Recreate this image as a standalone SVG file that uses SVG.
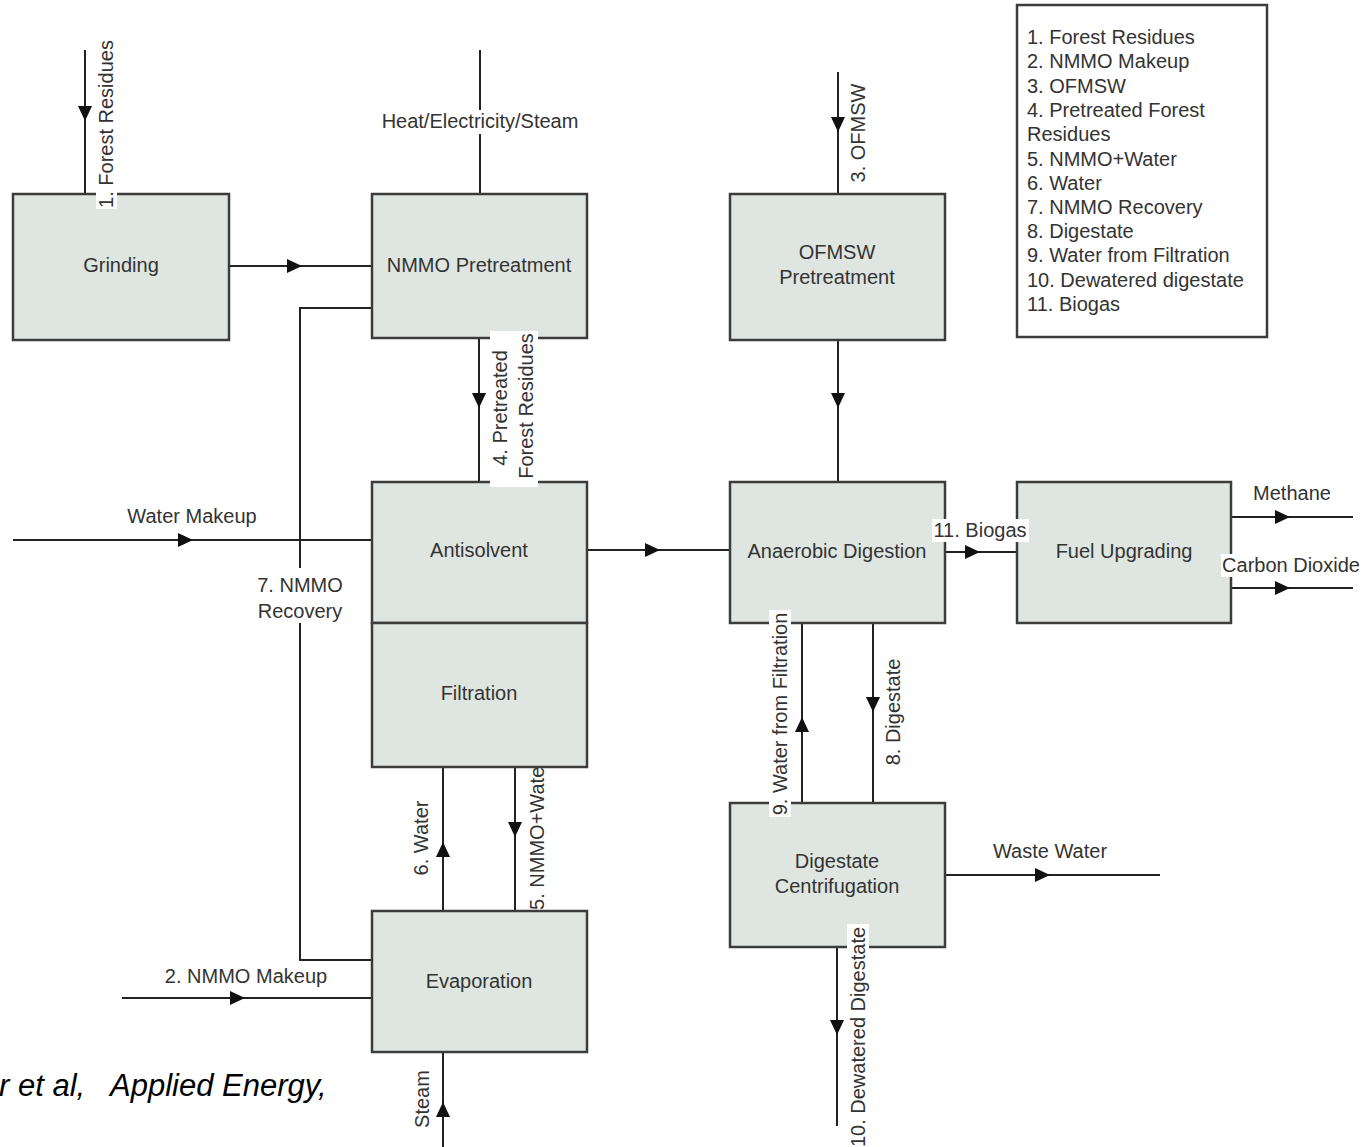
<svg xmlns="http://www.w3.org/2000/svg" width="1364" height="1147" viewBox="0 0 1364 1147">
<style>
.box{fill:#dfe6e1;stroke:#3c3c3c;stroke-width:2.5}
.lg{fill:#ffffff;stroke:#3c3c3c;stroke-width:2.5}
.t{font-family:"Liberation Sans",Arial,sans-serif;font-size:20px;fill:#333333;text-anchor:middle;dominant-baseline:central}
.lt{font-family:"Liberation Sans",Arial,sans-serif;font-size:20px;fill:#333333}
.c{fill:none;stroke:#222222;stroke-width:2;marker-mid:url(#ah)}
.cn{fill:none;stroke:#222222;stroke-width:2}
.bg{fill:#ffffff}
.cit{font-family:"Liberation Sans",Arial,sans-serif;font-size:31px;font-style:italic;fill:#000000}
</style>
<defs>
<marker id="ah" markerUnits="userSpaceOnUse" markerWidth="16" markerHeight="16" refX="15" refY="7" orient="auto">
<path d="M0,0 L15,7 L0,14 Z" fill="#111111"/>
</marker>
</defs>

<g id="connectors">
<path class="c" d="M85,50 L85,121 L85,194"/>
<path class="cn" d="M480,50 L480,194"/>
<path class="c" d="M229,266 L302,266 L372,266"/>
<path class="cn" d="M372,308 L300,308 L300,960 L372,960"/>
<path class="c" d="M479,338 L479,408 L479,482"/>
<path class="c" d="M13,540 L193,540 L372,540"/>
<path class="c" d="M587,550 L660,550 L730,550"/>
<path class="c" d="M838,72 L838,132 L838,194"/>
<path class="c" d="M838,340 L838,408 L838,482"/>
<path class="c" d="M945,552 L980,552 L1017,552"/>
<path class="c" d="M1231,517 L1290,517 L1353,517"/>
<path class="c" d="M1231,588 L1290,588 L1353,588"/>
<path class="c" d="M802,803 L802,717 L802,623"/>
<path class="c" d="M873,623 L873,712 L873,803"/>
<path class="c" d="M945,875 L1050,875 L1160,875"/>
<path class="c" d="M837,947 L837,1035 L837,1126"/>
<path class="c" d="M443,911 L443,842 L443,767"/>
<path class="c" d="M515,767 L515,837 L515,911"/>
<path class="c" d="M122,998 L245,998 L372,998"/>
<path class="c" d="M443,1147 L443,1102 L443,1053"/>
<text class="t" transform="translate(537,835) rotate(-90)">5. NMMO+Water</text>
</g>

<g id="grinding"><rect class="box" x="13" y="194" width="216" height="146"/><text class="t" x="121" y="265">Grinding</text></g>
<g id="nmmo-pretreatment"><rect class="box" x="372" y="194" width="215" height="144"/><text class="t" x="479" y="265">NMMO Pretreatment</text></g>
<g id="ofmsw-pretreatment"><rect class="box" x="730" y="194" width="215" height="146"/><text class="t" x="837" y="252">OFMSW</text><text class="t" x="837" y="277">Pretreatment</text></g>
<g id="antisolvent"><rect class="box" x="372" y="482" width="215" height="141"/><text class="t" x="479" y="550">Antisolvent</text></g>
<g id="filtration"><rect class="box" x="372" y="623" width="215" height="144"/><text class="t" x="479" y="693">Filtration</text></g>
<g id="anaerobic-digestion"><rect class="box" x="730" y="482" width="215" height="141"/><text class="t" x="837" y="551">Anaerobic Digestion</text></g>
<g id="fuel-upgrading"><rect class="box" x="1017" y="482" width="214" height="141"/><text class="t" x="1124" y="551">Fuel Upgrading</text></g>
<g id="digestate-centrifugation"><rect class="box" x="730" y="803" width="215" height="144"/><text class="t" x="837" y="861">Digestate</text><text class="t" x="837" y="886">Centrifugation</text></g>
<g id="evaporation"><rect class="box" x="372" y="911" width="215" height="141"/><text class="t" x="479" y="981">Evaporation</text></g>

<g id="legend">
<rect class="lg" x="1017" y="5" width="250" height="332"/>
<text class="lt" x="1027" y="44">1. Forest Residues</text>
<text class="lt" x="1027" y="68">2. NMMO Makeup</text>
<text class="lt" x="1027" y="93">3. OFMSW</text>
<text class="lt" x="1027" y="117">4. Pretreated Forest</text>
<text class="lt" x="1027" y="141">Residues</text>
<text class="lt" x="1027" y="166">5. NMMO+Water</text>
<text class="lt" x="1027" y="190">6. Water</text>
<text class="lt" x="1027" y="214">7. NMMO Recovery</text>
<text class="lt" x="1027" y="238">8. Digestate</text>
<text class="lt" x="1027" y="262">9. Water from Filtration</text>
<text class="lt" x="1027" y="287">10. Dewatered digestate</text>
<text class="lt" x="1027" y="311">11. Biogas</text>
</g>

<g id="connector-labels">
<rect class="bg" x="96" y="38" width="21" height="171"/>
<text class="t" transform="translate(106,124) rotate(-90)">1. Forest Residues</text>
<rect class="bg" x="378" y="110" width="204" height="24"/>
<text class="t" x="480" y="121">Heat/Electricity/Steam</text>
<rect class="bg" x="490" y="331" width="48" height="156"/>
<text class="t" transform="translate(500,408) rotate(-90)">4. Pretreated</text>
<text class="t" transform="translate(526,406) rotate(-90)">Forest Residues</text>
<text class="t" x="192" y="516">Water Makeup</text>
<rect class="bg" x="256" y="568" width="88" height="55"/>
<text class="t" x="300" y="585">7. NMMO</text>
<text class="t" x="300" y="611">Recovery</text>
<text class="t" transform="translate(858,133) rotate(-90)">3. OFMSW</text>
<rect class="bg" x="932" y="519" width="97" height="23"/>
<text class="t" x="980" y="530">11. Biogas</text>
<text class="t" x="1292" y="493">Methane</text>
<rect class="bg" x="1221" y="554" width="140" height="23"/>
<text class="t" x="1291" y="565">Carbon Dioxide</text>
<rect class="bg" x="769" y="610" width="22" height="207"/>
<text class="t" transform="translate(780,714) rotate(-90)">9. Water from Filtration</text>
<text class="t" transform="translate(893,712) rotate(-90)">8. Digestate</text>
<text class="t" x="1050" y="851">Waste Water</text>
<rect class="bg" x="847" y="924" width="22" height="223"/>
<text class="t" transform="translate(858,1037) rotate(-90)">10. Dewatered Digestate</text>
<text class="t" transform="translate(421,838) rotate(-90)">6. Water</text>
<text class="t" x="246" y="976">2. NMMO Makeup</text>
<text class="t" transform="translate(422,1099) rotate(-90)">Steam</text>
</g>

<text class="cit" y="1096"><tspan x="-1">r et al,</tspan><tspan x="110">Applied Energy,</tspan></text>
</svg>
